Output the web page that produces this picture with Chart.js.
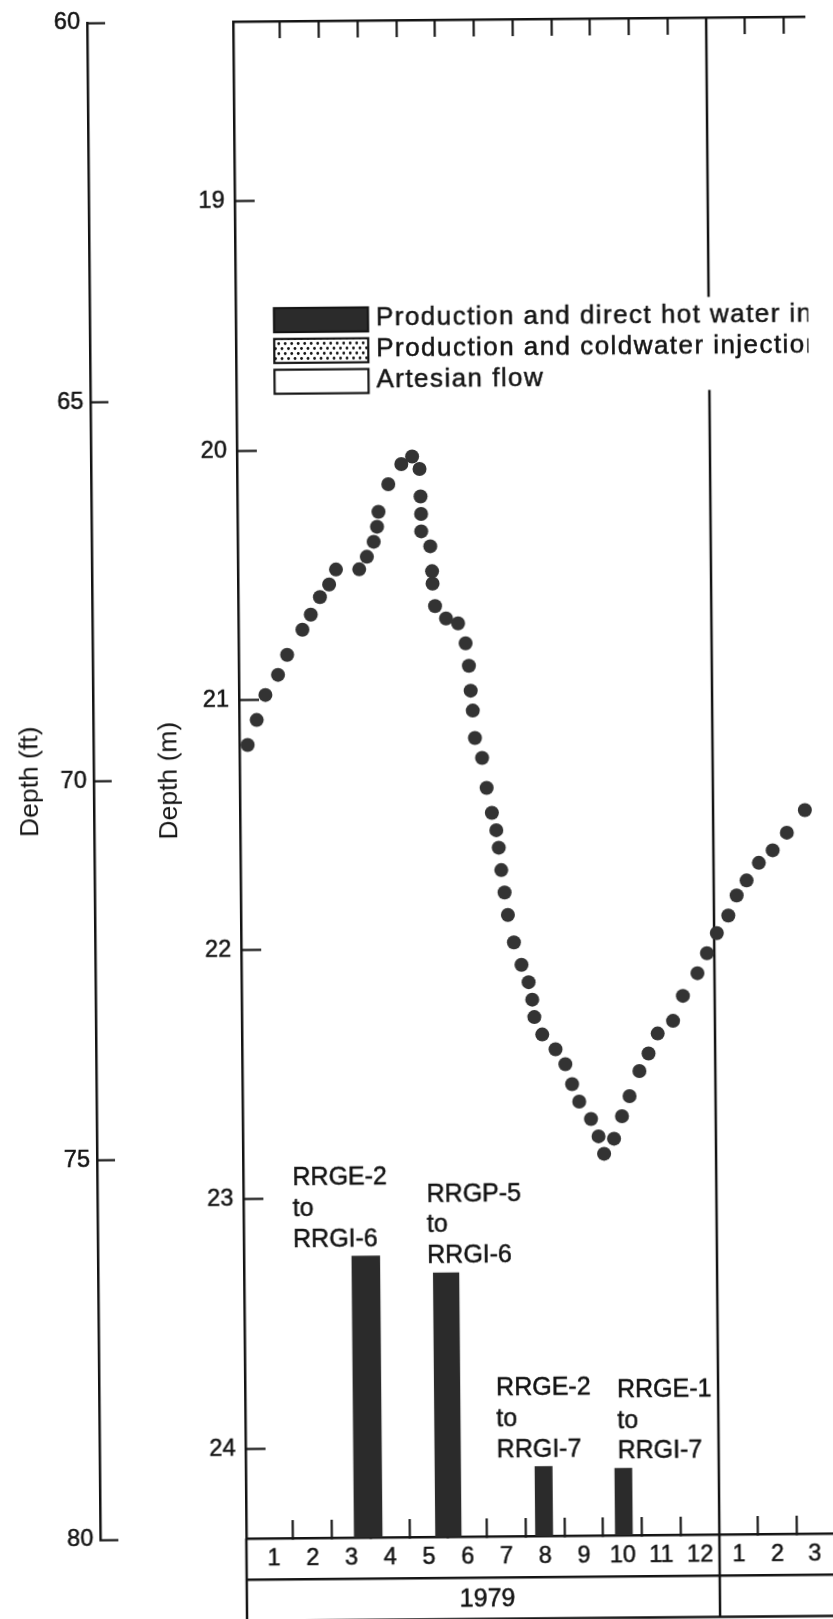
<!DOCTYPE html>
<html>
<head>
<meta charset="utf-8">
<title>Depth to water, 1979-1980</title>
<script src="https://cdn.jsdelivr.net/npm/chart.js@4.4.1/dist/chart.umd.min.js"></script>
<style>
  html, body { margin: 0; padding: 0; background: #fff; overflow: hidden; }
  #wrap {
    width: 833px; height: 1619px; overflow: hidden;
    clip-path: polygon(0 0, 805px 0, 838px 1619px, 0 1619px);
  }
  #chart_depth { display: block; transform: rotate(-0.5deg); transform-origin: 416px 810px; }
</style>
</head>
<body>
<div id="wrap"><canvas id="chart_depth" width="833" height="1622"></canvas></div>
<script>
// time in months from 1 Jan 1979, depth to water in metres
const obsMonth = [
  0.00, 0.24, 0.47, 0.80, 1.04, 1.44, 1.66, 1.90, 2.14, 2.32,
  2.92, 3.12, 3.30, 3.39, 3.43, 3.69, 4.03, 4.31, 4.50, 4.52,
  4.53, 4.53, 4.76, 4.80, 4.81, 4.87, 5.15, 5.46, 5.65, 5.73,
  5.77, 5.82, 5.87, 6.05, 6.16, 6.29, 6.40, 6.46, 6.52, 6.60,
  6.68, 6.83, 7.02, 7.20, 7.29, 7.34, 7.54, 7.88, 8.13, 8.30,
  8.48, 8.78, 8.97, 9.11, 9.37, 9.58, 9.78, 10.04, 10.28, 10.52,
  10.92, 11.18, 11.56, 11.81, 12.07, 12.37, 12.59, 12.85, 13.17, 13.53,
  13.90, 14.37
];
const obsDepth = [
  21.18, 21.08, 20.98, 20.90, 20.82, 20.72, 20.66, 20.59, 20.54, 20.48,
  20.48, 20.43, 20.37, 20.31, 20.25, 20.14, 20.06, 20.03, 20.08, 20.19,
  20.26, 20.33, 20.39, 20.49, 20.54, 20.63, 20.68, 20.70, 20.78, 20.87,
  20.97, 21.05, 21.16, 21.24, 21.36, 21.46, 21.53, 21.60, 21.69, 21.78,
  21.87, 21.98, 22.07, 22.14, 22.21, 22.28, 22.35, 22.41, 22.47, 22.55,
  22.62, 22.69, 22.76, 22.83, 22.77, 22.68, 22.60, 22.50, 22.43, 22.35,
  22.30, 22.20, 22.11, 22.03, 21.95, 21.88, 21.80, 21.74, 21.67, 21.62,
  21.55, 21.46
];

const monthLabels = ['1', '2', '3', '4', '5', '6', '7', '8', '9', '10', '11', '12', '1', '2', '3'];
const yearLabels = ['1979', '1980'];
const depthTicks = [19, 20, 21, 22, 23, 24];
const feetTicks = [60, 65, 70, 75, 80];

// injection periods (production and direct hot water injection)
const injStart = [2.56, 4.66, 7.24, 9.30];
const injEnd = [3.31, 5.35, 7.71, 9.77];
const injTop = [23.23, 23.30, 24.08, 24.09];
const injFrom = ['RRGE-2', 'RRGP-5', 'RRGE-2', 'RRGE-1'];
const injTo = ['RRGI-6', 'RRGI-6', 'RRGI-7', 'RRGI-7'];
const noteMonth = [1.06, 4.52, 6.27, 9.39];

const legendLabels = [
  'Production and direct hot water injection',
  'Production and coldwater injection',
  'Artesian flow'
];

const INK = '#141414';
const DOT = '#333333';
const BAR = '#2b2b2b';
const FONT = "'Liberation Sans', Arial, Helvetica, sans-serif";
const TEXT_STROKE = 0.5;

const X_MIN = -0.212, X_MAX = 14.916;
const M_MIN = 18.281, M_MAX = 24.359;

Chart.defaults.font.family = FONT;
Chart.defaults.color = INK;

// month cells: label in the middle of the visible part, tick on each boundary
const monthTicks = [];
monthLabels.forEach((lab, i) => {
  const a = Math.max(i, X_MIN), b = Math.min(i + 1, X_MAX);
  monthTicks.push({ value: (a + b) / 2, label: lab, mark: false });
  if (i > 0 && i !== 12) monthTicks.push({ value: i, label: '', mark: true });
});
const topTicks = monthTicks.filter(t => t.mark).map(t => t.value);

const yearTicks = [];
yearLabels.forEach((lab, i) => {
  const a = Math.max(12 * i, X_MIN), b = Math.min(12 * (i + 1), X_MAX);
  const mid = 12 * i + 6;
  if (mid > a && mid < b) yearTicks.push({ value: (a + b) / 2, label: lab });
});

const LEG = { dx: 38.3, dy: 305, row: 30.8, boxW: 94, boxH: 24, gap: 8, clip: 572.5 };

function legendGap(chart) {
  const t = chart.chartArea.top + LEG.dy;
  return [t - 25.5, t + 2 * LEG.row + 6];
}

function dotPattern(ctx) {
  const c = document.createElement('canvas');
  c.width = 13; c.height = 10;
  const p = c.getContext('2d');
  p.fillStyle = '#fff';
  p.fillRect(0, 0, 13, 10);
  p.fillStyle = INK;
  [[3.25, 2.5], [9.75, 2.5], [0, 7.5], [6.5, 7.5], [13, 7.5]].forEach(([x, y]) => {
    p.beginPath(); p.arc(x, y, 1.4, 0, Math.PI * 2); p.fill();
  });
  return ctx.createPattern(c, 'repeat');
}

function inkText(ctx, text, x, y) {
  ctx.fillText(text, x, y);
  ctx.lineWidth = TEXT_STROKE;
  ctx.strokeStyle = INK;
  ctx.strokeText(text, x, y);
}

// frame lines running through the label rows and the year divider
const tableLines = {
  id: 'tableLines',
  beforeDatasetsDraw(chart) {
    const { ctx, chartArea: ca, scales } = chart;
    const yb = scales.xYear.bottom;
    const xd = scales.x.getPixelForValue(12);
    const gap = legendGap(chart);
    ctx.save();
    ctx.strokeStyle = INK;
    ctx.lineWidth = 2.5;
    ctx.beginPath();
    ctx.moveTo(ca.left, ca.bottom); ctx.lineTo(ca.left, yb);
    ctx.moveTo(xd, ca.top); ctx.lineTo(xd, gap[0]);
    ctx.moveTo(xd, gap[1]); ctx.lineTo(xd, yb);
    ctx.moveTo(ca.left, yb - 0.5); ctx.lineTo(ca.right, yb - 0.5);
    ctx.stroke();
    ctx.restore();
  }
};

const injNotes = {
  id: 'injNotes',
  afterDatasetsDraw(chart) {
    const { ctx, scales: { x, y } } = chart;
    ctx.save();
    ctx.font = '25px ' + FONT;
    ctx.fillStyle = INK;
    ctx.textAlign = 'left';
    ctx.textBaseline = 'alphabetic';
    injFrom.forEach((from, i) => {
      const lines = [from, 'to', injTo[i]];
      const px = x.getPixelForValue(noteMonth[i]);
      const last = y.getPixelForValue(injTop[i]) - 9.5;
      lines.forEach((t, k) => inkText(ctx, t, px, last - (2 - k) * 30.8));
    });
    ctx.restore();
  }
};

const boxLegend = {
  id: 'boxLegend',
  afterDraw(chart) {
    const { ctx, chartArea: ca } = chart;
    const x0 = ca.left + LEG.dx;
    const fills = [BAR, dotPattern(ctx), '#fff'];
    ctx.save();
    ctx.beginPath();
    ctx.rect(0, 0, ca.left + LEG.clip, chart.height);
    ctx.clip();
    ctx.font = '26px ' + FONT;
    ctx.letterSpacing = '1.45px';
    ctx.textAlign = 'left';
    ctx.textBaseline = 'alphabetic';
    legendLabels.forEach((text, i) => {
      const base = ca.top + LEG.dy + i * LEG.row;
      const top = base - 18;
      ctx.fillStyle = fills[i];
      ctx.fillRect(x0, top, LEG.boxW, LEG.boxH);
      ctx.lineWidth = 2.2;
      ctx.strokeStyle = INK;
      ctx.strokeRect(x0, top, LEG.boxW, LEG.boxH);
      ctx.fillStyle = INK;
      inkText(ctx, text, x0 + LEG.boxW + LEG.gap, base);
    });
    ctx.restore();
  }
};

function noPad(s) {
  s.paddingTop = 0; s.paddingBottom = 0; s.paddingLeft = 0; s.paddingRight = 0;
}

const injSets = injStart.map((s, i) => ({
  type: 'line',
  label: injFrom[i] + ' to ' + injTo[i],
  data: [
    { x: s, y: M_MAX }, { x: s, y: injTop[i] },
    { x: injEnd[i], y: injTop[i] }, { x: injEnd[i], y: M_MAX }
  ],
  borderWidth: 0,
  borderColor: 'rgba(0,0,0,0)',
  backgroundColor: BAR,
  fill: { value: M_MAX },
  pointRadius: 0,
  tension: 0
}));

const tickText = { color: INK, textStrokeColor: INK, textStrokeWidth: TEXT_STROKE };

const depthChart = new Chart(document.getElementById('chart_depth').getContext('2d'), {
  type: 'scatter',
  data: {
    datasets: [{
      label: 'Depth to water',
      data: obsMonth.map((m, i) => ({ x: m, y: obsDepth[i] })),
      pointRadius: 7,
      pointBorderWidth: 0,
      pointBackgroundColor: DOT,
      pointBorderColor: DOT,
      showLine: false
    }, ...injSets]
  },
  options: {
    responsive: false,
    animation: false,
    events: [],
    layout: { padding: { left: 0, right: 0, top: 0, bottom: 2 } },
    plugins: { legend: { display: false }, tooltip: { enabled: false } },
    scales: {
      x: {
        type: 'linear', position: 'bottom', weight: 0, min: X_MIN, max: X_MAX,
        afterBuildTicks: s => { s.ticks = monthTicks.map(t => ({ value: t.value })); },
        afterFit: s => { s.height = 41; noPad(s); },
        grid: {
          drawOnChartArea: false, tickLength: -18, tickWidth: 2.2,
          tickColor: c => (monthTicks[c.index] && monthTicks[c.index].mark) ? INK : 'rgba(0,0,0,0)'
        },
        border: { color: INK, width: 2.5 },
        ticks: {
          ...tickText, autoSkip: false, maxRotation: 0, minRotation: 0, padding: 24,
          font: { size: 23.5 }, callback: (v, i) => monthTicks[i].label
        }
      },
      xYear: {
        type: 'linear', position: 'bottom', weight: 1, min: X_MIN, max: X_MAX,
        afterBuildTicks: s => { s.ticks = yearTicks.map(t => ({ value: t.value })); },
        afterFit: s => { s.height = 42; noPad(s); },
        grid: { display: false, drawTicks: false },
        border: { color: INK, width: 2.5 },
        ticks: {
          ...tickText, autoSkip: false, maxRotation: 0, minRotation: 0, padding: 7,
          font: { size: 25 }, callback: (v, i) => yearTicks[i].label
        }
      },
      xTop: {
        type: 'linear', position: 'top', min: X_MIN, max: X_MAX,
        afterBuildTicks: s => { s.ticks = topTicks.map(v => ({ value: v })); },
        afterFit: s => { s.height = 20; noPad(s); },
        grid: { drawOnChartArea: false, tickLength: -17, tickWidth: 2.2, tickColor: INK },
        border: { color: INK, width: 2.5 },
        ticks: { display: false }
      },
      y: {
        type: 'linear', position: 'left', weight: 1, reverse: true, min: M_MIN, max: M_MAX,
        afterBuildTicks: s => { s.ticks = depthTicks.map(v => ({ value: v })); },
        afterFit: s => { s.width = 146; noPad(s); },
        grid: { drawOnChartArea: false, tickLength: -20, tickWidth: 2.2, tickColor: INK },
        border: { color: INK, width: 2.5 },
        ticks: { ...tickText, autoSkip: false, padding: 30, font: { size: 23.5 }, callback: v => String(v) },
        title: { display: true, text: 'Depth (m)', color: INK, font: { size: 26.5 }, padding: { top: 60, bottom: 0 } }
      },
      yFt: {
        type: 'linear', position: 'left', weight: 2, reverse: true, min: 60, max: 80,
        afterBuildTicks: s => { s.ticks = feetTicks.map(v => ({ value: v })); },
        afterFit: s => { s.width = 94; noPad(s); },
        grid: { drawOnChartArea: false, tickLength: -18, tickWidth: 2.2, tickColor: INK },
        border: { color: INK, width: 2.5 },
        ticks: { ...tickText, autoSkip: false, padding: 25, font: { size: 23.5 }, callback: v => String(v) },
        title: { display: true, text: 'Depth (ft)', color: INK, font: { size: 26.5 }, padding: { top: 14.6, bottom: 0 } }
      }
    }
  },
  plugins: [tableLines, injNotes, boxLegend]
});
</script>
</body>
</html>
